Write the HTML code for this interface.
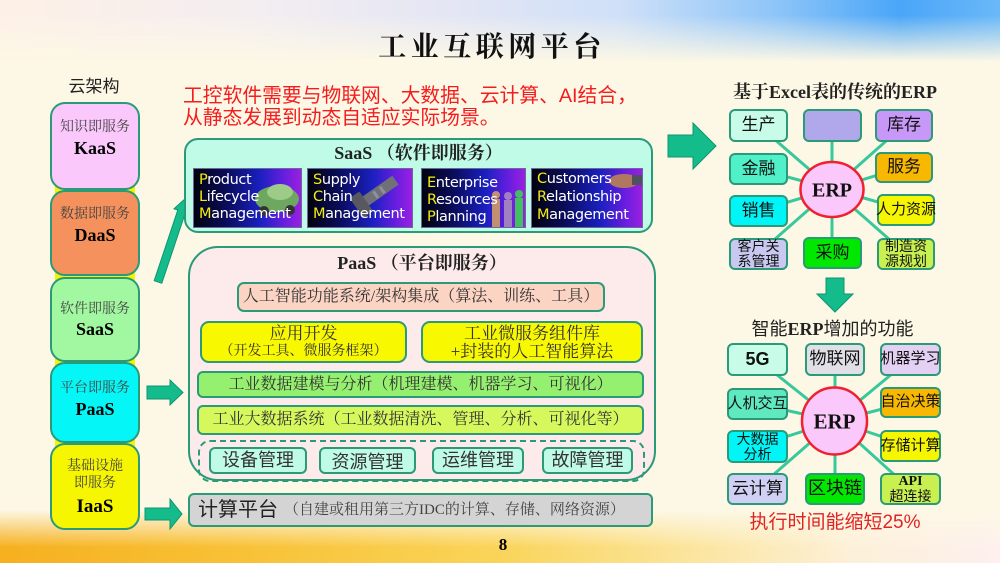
<!DOCTYPE html>
<html><head><meta charset="utf-8">
<style>
*{margin:0;padding:0;box-sizing:border-box;}
html,body{width:1000px;height:563px;overflow:hidden;}
body{position:relative;background:#fdf8e6;font-family:"Liberation Sans","Noto Sans CJK SC",sans-serif;}
.abs{position:absolute;}
.topbg{position:absolute;left:0;top:0;width:1000px;height:62px;
 background:linear-gradient(90deg,#fdf0e6 0%,#f4eef0 25%,#e4e6f4 45%,#cfe0f8 62%,#8cc4f8 78%,#4aa6f8 90%,#6ab8f8 100%);
 -webkit-mask-image:linear-gradient(to bottom,#000 0%,#000 25%,transparent 100%);mask-image:linear-gradient(to bottom,#000 0%,#000 25%,transparent 100%);}
.botbg{position:absolute;left:0;top:510px;width:1000px;height:53px;
 background:linear-gradient(90deg,#f6b020 0%,#f8c238 25%,#fad45a 50%,#fbe49a 68%,#fdf0d8 85%,#fdf0ee 100%);
 -webkit-mask-image:linear-gradient(to bottom,transparent 0%,#000 70%);mask-image:linear-gradient(to bottom,transparent 0%,#000 70%);}
.b{position:absolute;border:2px solid #2a9a78;display:flex;flex-direction:column;align-items:center;justify-content:center;text-align:center;line-height:1.1;white-space:nowrap;}
.serif{font-family:"Liberation Serif","Noto Serif CJK SC",serif;}
.sans{font-family:"Liberation Sans","Noto Sans CJK SC",sans-serif;}
.t{position:absolute;text-align:center;white-space:nowrap;}
.lc{color:#444;font-size:14px;line-height:16px;font-family:"Liberation Serif","Noto Serif CJK SC",serif;}
.lb{color:#000;font-size:18px;line-height:20px;font-weight:bold;font-family:"Liberation Serif","Noto Serif CJK SC",serif;}
.tile{position:absolute;top:168px;height:60px;overflow:hidden;border:1px solid #6a6a9a;
 background:linear-gradient(90deg,#02020e 0%,#0a0c5a 30%,#1a20c0 62%,#6a1ee0 85%,#9a20e0 100%);}
.tile .ln{position:absolute;left:5px;color:#fff;font-family:"DejaVu Sans","Liberation Sans",sans-serif;font-size:14.5px;line-height:16px;white-space:nowrap;letter-spacing:-0.4px;z-index:2;}
.tile .ln b{color:#f4ec10;font-weight:normal;}
.eb{font-size:17px;color:#111;font-family:"Liberation Sans","Noto Sans CJK SC",sans-serif;border-radius:6px;}
</style></head><body>
<div class="topbg"></div>
<div class="botbg"></div>

<svg class="abs" style="left:0;top:0;z-index:1" width="1000" height="563" viewBox="0 0 1000 563">
 <g fill="#14bc8c" stroke="#0e9470" stroke-width="1">
  <polygon points="154.2,280.7 177.8,210 174,208.8 186,198 189.2,213.8 185.4,212.6 161.8,283.3"/>
  <polygon points="147,386 170,386 170,380 183,392.5 170,405 170,399 147,399"/>
  <polygon points="145,508 170,508 170,499 182,514 170,529 170,520 145,520"/>
  <polygon points="668,135 693,135 693,123 716,146 693,169 693,157 668,157"/>
  <polygon points="826,278 844,278 844,294 853,294 835,312 817,294 826,294"/>
 </g>
 <g stroke="#38c89c" stroke-width="3">
  <line x1="832" y1="189" x2="758" y2="125"/>
  <line x1="832" y1="189" x2="832" y2="125"/>
  <line x1="832" y1="189" x2="904" y2="125"/>
  <line x1="832" y1="189" x2="758" y2="169"/>
  <line x1="832" y1="189" x2="904" y2="167"/>
  <line x1="832" y1="189" x2="758" y2="211"/>
  <line x1="832" y1="189" x2="906" y2="210"/>
  <line x1="832" y1="189" x2="758" y2="254"/>
  <line x1="832" y1="189" x2="832" y2="253"/>
  <line x1="832" y1="189" x2="906" y2="254"/>
  <line x1="835" y1="421" x2="757" y2="359"/>
  <line x1="835" y1="421" x2="835" y2="359"/>
  <line x1="835" y1="421" x2="910" y2="359"/>
  <line x1="835" y1="421" x2="757" y2="404"/>
  <line x1="835" y1="421" x2="910" y2="402"/>
  <line x1="835" y1="421" x2="757" y2="446"/>
  <line x1="835" y1="421" x2="910" y2="446"/>
  <line x1="835" y1="421" x2="757" y2="489"/>
  <line x1="835" y1="421" x2="835" y2="489"/>
  <line x1="835" y1="421" x2="910" y2="489"/>
 </g>
 <ellipse cx="832" cy="189.5" rx="31.5" ry="27.5" fill="#fbc8fb" stroke="#f02030" stroke-width="2.5"/>
 <ellipse cx="834.5" cy="421" rx="32.5" ry="33.5" fill="#fbc8fb" stroke="#f02030" stroke-width="2.5"/>
 <text x="832" y="196.5" text-anchor="middle" font-family="Liberation Serif" font-weight="bold" font-size="20" fill="#111">ERP</text>
 <text x="834.5" y="428.5" text-anchor="middle" font-family="Liberation Serif" font-weight="bold" font-size="21" fill="#111">ERP</text>
</svg>

<div style="position:absolute;left:0;top:0;width:1000px;height:563px;z-index:2">
<div class="t" style="left:372px;width:240px;top:28px;font-size:28px;line-height:34px;letter-spacing:4.5px;font-weight:bold;color:#111;font-family:'Noto Serif CJK SC',serif;">工业互联网平台</div>

<div class="t" style="left:183px;top:86px;text-align:left;color:#f41c1c;font-size:19.8px;line-height:21.5px;">工控软件需要与物联网、大数据、云计算、AI结合，<br>从静态发展到动态自适应实际场景。</div>

<div class="t" style="left:60px;width:68px;top:75px;font-size:17px;line-height:20px;color:#222;font-family:'Noto Sans CJK SC',sans-serif;">云架构</div>
<div class="abs" style="left:55px;top:150px;width:80px;height:350px;background:#f4f400;"></div>
<div class="b" style="left:50px;top:102px;width:90px;height:88px;background:#fbc8fb;border-radius:15px;"></div>
<div class="b" style="left:50px;top:190px;width:90px;height:86px;background:#f5915c;border-radius:15px;"></div>
<div class="b" style="left:50px;top:277px;width:90px;height:85px;background:#a2f8a0;border-radius:15px;"></div>
<div class="b" style="left:50px;top:362px;width:90px;height:81px;background:#04f6f6;border-radius:15px;"></div>
<div class="b" style="left:50px;top:443px;width:90px;height:87px;background:#f6f600;border-radius:15px;"></div>
<div class="t lc" style="left:50px;width:90px;top:120px;">知识即服务</div>
<div class="t lb" style="left:50px;width:90px;top:138px;">KaaS</div>
<div class="t lc" style="left:50px;width:90px;top:207px;">数据即服务</div>
<div class="t lb" style="left:50px;width:90px;top:225px;">DaaS</div>
<div class="t lc" style="left:50px;width:90px;top:302px;">软件即服务</div>
<div class="t lb" style="left:50px;width:90px;top:319px;">SaaS</div>
<div class="t lc" style="left:50px;width:90px;top:381px;">平台即服务</div>
<div class="t lb" style="left:50px;width:90px;top:399px;">PaaS</div>
<div class="t lc" style="left:50px;width:90px;top:459px;">基础设施</div>
<div class="t lc" style="left:50px;width:90px;top:476px;">即服务</div>
<div class="t lb" style="left:50px;width:90px;top:497px;font-size:19px;">IaaS</div>

<div class="b" style="left:184px;top:138px;width:469px;height:95px;background:#c0fbe8;border-radius:14px;"></div>
<div class="t serif" style="left:184px;width:469px;top:142px;font-size:18px;line-height:22px;font-weight:bold;color:#222;">SaaS （软件即服务）</div>

<div class="tile" style="left:193px;width:109px;">
 <svg class="abs" style="left:0;top:0" width="109" height="60"><ellipse cx="83" cy="30" rx="22" ry="13" fill="#6ea860"/><ellipse cx="86" cy="23" rx="13" ry="8" fill="#9ccc88"/><circle cx="70" cy="42" r="5" fill="#333"/><circle cx="96" cy="41" r="5" fill="#333"/></svg>
 <div class="ln" style="top:3px;"><b>P</b>roduct</div>
 <div class="ln" style="top:20px;"><b>L</b>ifecycle</div>
 <div class="ln" style="top:37px;"><b>M</b>anagement</div>
</div>
<div class="tile" style="left:307px;width:106px;">
 <svg class="abs" style="left:0;top:0" width="106" height="60"><g transform="rotate(-35 70 35)"><rect x="58" y="20" width="40" height="11" fill="#707078"/><rect x="50" y="14" width="12" height="24" rx="2" fill="#585860"/><rect x="72" y="22" width="3" height="8" fill="#909098"/><rect x="80" y="22" width="3" height="8" fill="#909098"/></g></svg>
 <div class="ln" style="top:3px;"><b>S</b>upply</div>
 <div class="ln" style="top:20px;"><b>C</b>hain</div>
 <div class="ln" style="top:37px;"><b>M</b>anagement</div>
</div>
<div class="tile" style="left:421px;width:105px;">
 <svg class="abs" style="left:0;top:0" width="105" height="60"><g><circle cx="74" cy="26" r="4" fill="#c09070"/><rect x="70" y="30" width="8" height="28" fill="#c09070"/><circle cx="86" cy="27" r="4" fill="#a080c0"/><rect x="82" y="31" width="8" height="28" fill="#a080c0"/><circle cx="97" cy="25" r="4" fill="#40c060"/><rect x="93" y="29" width="8" height="30" fill="#40c060"/></g></svg>
 <div class="ln" style="top:6px;"><b>E</b>nterprise</div>
 <div class="ln" style="top:23px;"><b>R</b>esources</div>
 <div class="ln" style="top:40px;"><b>P</b>lanning</div>
</div>
<div class="tile" style="left:531px;width:112px;">
 <svg class="abs" style="left:0;top:0" width="112" height="60"><ellipse cx="92" cy="12" rx="15" ry="7" fill="#b07860"/><rect x="100" y="6" width="12" height="10" fill="#505060"/></svg>
 <div class="ln" style="top:2px;"><b>C</b>ustomers</div>
 <div class="ln" style="top:20px;"><b>R</b>elationship</div>
 <div class="ln" style="top:38px;"><b>M</b>anagement</div>
</div>

<div class="b" style="left:188px;top:246px;width:468px;height:235px;background:#fdeaea;border-radius:30px;"></div>
<div class="t serif" style="left:188px;width:468px;top:252px;font-size:18px;line-height:22px;font-weight:bold;color:#222;">PaaS （平台即服务）</div>
<div class="b serif" style="left:237px;top:282px;width:368px;height:30px;background:#fcd4c4;border-radius:7px;font-size:16px;color:#333;">人工智能功能系统/架构集成（算法、训练、工具）</div>
<div class="b serif" style="left:200px;top:321px;width:207px;height:42px;background:#f8f800;border-radius:9px;color:#333;">
 <div style="font-size:17px;line-height:19px;">应用开发</div><div style="font-size:14px;line-height:17px;">（开发工具、微服务框架）</div></div>
<div class="b serif" style="left:421px;top:321px;width:222px;height:42px;background:#f8f800;border-radius:9px;color:#333;">
 <div style="font-size:17px;line-height:19px;">工业微服务组件库</div><div style="font-size:17px;line-height:18px;">+封装的人工智能算法</div></div>
<div class="b serif" style="left:197px;top:371px;width:447px;height:27px;background:#96f070;border-radius:6px;font-size:16px;color:#333;">工业数据建模与分析（机理建模、机器学习、可视化）</div>
<div class="b serif" style="left:197px;top:405px;width:447px;height:30px;background:#d6f85c;border-radius:6px;font-size:16px;color:#333;">工业大数据系统（工业数据清洗、管理、分析、可视化等）</div>
<div class="abs" style="left:198px;top:440px;width:447px;height:42px;border:2px dashed #2a9a78;border-radius:12px;"></div>
<div class="b sans" style="left:209px;top:447px;width:98px;height:27px;background:#c0fbe8;border-radius:6px;font-size:18px;color:#333;">设备管理</div>
<div class="b sans" style="left:319px;top:447px;width:97px;height:27px;background:#c0fbe8;border-radius:6px;font-size:18px;color:#333;padding-top:4px;">资源管理</div>
<div class="b sans" style="left:432px;top:447px;width:92px;height:27px;background:#c0fbe8;border-radius:6px;font-size:18px;color:#333;">运维管理</div>
<div class="b sans" style="left:542px;top:447px;width:91px;height:27px;background:#c0fbe8;border-radius:6px;font-size:18px;color:#333;">故障管理</div>

<div class="b" style="left:188px;top:493px;width:465px;height:34px;background:#d4d4d4;border-radius:6px;flex-direction:row;justify-content:flex-start;padding-left:8px;">
 <span class="sans" style="font-size:20px;color:#222;">计算平台</span><span class="serif" style="font-size:15px;color:#444;margin-left:6px;">（自建或租用第三方IDC的计算、存储、网络资源）</span></div>
<div class="t serif" style="left:483px;width:40px;top:535px;font-size:17px;line-height:20px;font-weight:bold;">8</div>

<div class="t" style="left:720px;width:230px;top:81px;font-size:18px;line-height:22px;font-weight:bold;color:#222;font-family:'Liberation Serif','Noto Serif CJK SC',serif;">基于Excel表的传统的ERP</div>
<div class="b eb" style="left:729px;top:109px;width:59px;height:33px;background:#c8fbe8;">生产</div>
<div class="b eb" style="left:803px;top:109px;width:59px;height:33px;background:#b0a8ea;"></div>
<div class="b eb" style="left:875px;top:109px;width:58px;height:33px;background:#c898f8;">库存</div>
<div class="b eb" style="left:729px;top:153px;width:59px;height:32px;background:#50f0c8;">金融</div>
<div class="b eb" style="left:875px;top:152px;width:58px;height:31px;background:#f8b800;">服务</div>
<div class="b eb" style="left:729px;top:195px;width:59px;height:32px;background:#00f6f6;">销售</div>
<div class="b eb" style="left:877px;top:194px;width:58px;height:32px;background:#f6f600;font-size:15px;">人力资源</div>
<div class="b eb" style="left:729px;top:238px;width:59px;height:32px;background:#c8c8f0;font-size:14px;line-height:15px;">客户关<br>系管理</div>
<div class="b eb" style="left:803px;top:237px;width:59px;height:32px;background:#00e800;">采购</div>
<div class="b eb" style="left:877px;top:238px;width:58px;height:32px;background:#c8f050;font-size:14px;line-height:15px;">制造资<br>源规划</div>

<div class="t" style="left:735px;width:195px;top:317px;font-size:18px;line-height:22px;color:#222;font-family:'Liberation Serif','Noto Serif CJK SC',serif;"><span style="font-family:'Noto Sans CJK SC',sans-serif;">智能</span><b>ERP</b><span style="font-family:'Noto Sans CJK SC',sans-serif;">增加的功能</span></div>
<div class="b eb serif" style="left:727px;top:343px;width:61px;height:33px;background:#c8fbe8;font-weight:bold;font-size:18px;">5G</div>
<div class="b eb" style="left:805px;top:343px;width:60px;height:33px;background:#e0e0e6;">物联网</div>
<div class="b eb" style="left:880px;top:343px;width:61px;height:33px;background:#e4d0f2;font-size:15px;">机器学习</div>
<div class="b eb" style="left:727px;top:388px;width:61px;height:32px;background:#60e8c0;font-size:15px;">人机交互</div>
<div class="b eb" style="left:880px;top:387px;width:61px;height:31px;background:#f8b800;font-size:15px;">自治决策</div>
<div class="b eb" style="left:727px;top:430px;width:61px;height:33px;background:#00f6f6;font-size:14px;line-height:15px;">大数据<br>分析</div>
<div class="b eb" style="left:880px;top:430px;width:61px;height:32px;background:#f6f600;font-size:15px;">存储计算</div>
<div class="b eb" style="left:727px;top:473px;width:61px;height:32px;background:#d0d0f4;">云计算</div>
<div class="b eb" style="left:805px;top:473px;width:60px;height:32px;background:#00e800;font-size:18px;">区块链</div>
<div class="b eb" style="left:880px;top:473px;width:61px;height:32px;background:#c8f050;line-height:14px;"><span class="serif" style="font-size:14px;font-weight:bold;">API</span><span style="font-size:14px;">超连接</span></div>
<div class="t" style="left:735px;width:200px;top:512px;font-size:19px;line-height:22px;color:#e02424;font-family:'Liberation Sans','Noto Sans CJK SC',sans-serif;">执行时间能缩短25%</div>
</div>
</body></html>
